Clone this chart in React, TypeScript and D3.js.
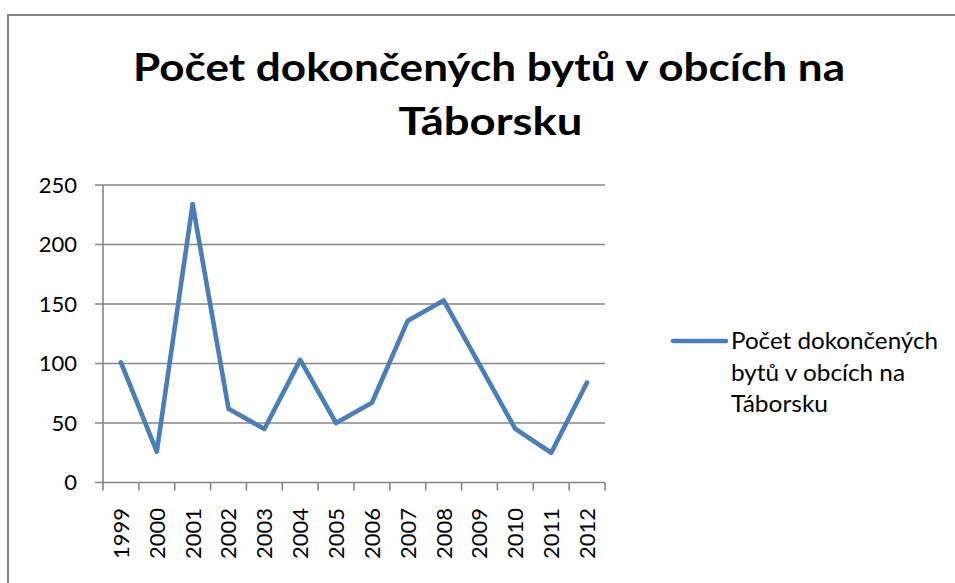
import React, { useEffect } from "react";
import * as d3 from "d3";

const years = ["1999","2000","2001","2002","2003","2004","2005","2006","2007","2008","2009","2010","2011","2012"];
const values = [101, 26, 234, 62, 45, 103, 50, 67, 136, 153, 99, 45, 25, 84];
const yTicks = [0, 50, 100, 150, 200, 250];
const titleLines = ["Počet dokončených bytů v obcích na", "Táborsku"];
const legendLines = ["Počet dokončených", "bytů v obcích na", "Táborsku"];

const W = 955, H = 583;
const plot = { left: 103, right: 605, top: 185, bottom: 482.5 };
const gray = "#868686";
const blue = "#4A7EBB";
const font = "Lato, 'Open Sans', sans-serif";

export default function App() {
  useEffect(() => {
    document.body.style.margin = "0";
  }, []);

  const x = d3.scaleBand<string>().domain(years).range([plot.left, plot.right]);
  const y = d3.scaleLinear().domain([0, 250]).range([plot.bottom, plot.top]);
  const line = d3
    .line<number>()
    .x((_, i) => (x(years[i]) as number) + x.bandwidth() / 2)
    .y((d) => y(d));

  const boundaries = years.map((yr) => x(yr) as number).concat([plot.right]);

  return (
    <div style={{ position: "absolute", left: 0, top: 0 }}>
      <svg width={W} height={H} style={{ display: "block", background: "#fff" }}>
        <rect x={8} y={15} width={W} height={H} fill="#fff" stroke={gray} strokeWidth={2} />
        {/* Title */}
        <text x={489} y={81} textAnchor="middle" fontFamily={font} fontWeight="bold" fontSize={39}
          textLength={712} lengthAdjust="spacingAndGlyphs" fill="#000">{titleLines[0]}</text>
        <text x={490.5} y={134.5} textAnchor="middle" fontFamily={font} fontWeight="bold" fontSize={39}
          textLength={184} lengthAdjust="spacingAndGlyphs" fill="#000">{titleLines[1]}</text>

        {/* gridlines + y ticks */}
        {yTicks.map((t) => (
          <g key={t}>
            <line x1={95} x2={plot.right} y1={y(t)} y2={y(t)} stroke={gray} strokeWidth={1.6} />
            <text x={77} y={y(t)} dy="0.36em" textAnchor="end" fontFamily={font} fontSize={22} fill="#000">{t}</text>
          </g>
        ))}
        {/* y axis */}
        <line x1={plot.left} x2={plot.left} y1={plot.top} y2={plot.bottom} stroke={gray} strokeWidth={1.6} />
        {/* x ticks */}
        {boundaries.map((bx, i) => (
          <line key={i} x1={bx} x2={bx} y1={plot.bottom} y2={plot.bottom + 8} stroke={gray} strokeWidth={1.6} />
        ))}
        {/* x labels */}
        {years.map((yr) => {
          const cx = (x(yr) as number) + x.bandwidth() / 2;
          return (
            <text key={yr} transform={`translate(${cx},508) rotate(-90)`} textAnchor="end" dy="0.36em"
              fontFamily={font} fontSize={22} fill="#000">{yr}</text>
          );
        })}
        {/* data line */}
        <path d={line(values) || ""} fill="none" stroke={blue} strokeWidth={4.6} strokeLinejoin="round" strokeLinecap="round" />

        {/* legend */}
        <line x1={673} x2={726} y1={341} y2={341} stroke={blue} strokeWidth={4.6} strokeLinecap="round" />
        {legendLines.map((l, i) => (
          <text key={i} x={731} y={349 + i * 31.5} fontFamily={font} fontSize={23} fill="#000"
            textLength={[207, 174, 97][i]} lengthAdjust="spacingAndGlyphs">{l}</text>
        ))}
      </svg>
    </div>
  );
}
